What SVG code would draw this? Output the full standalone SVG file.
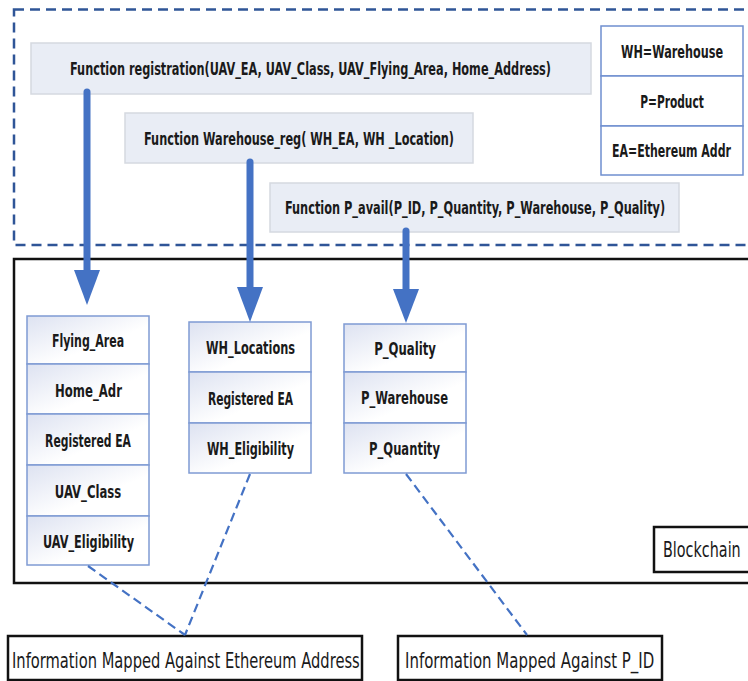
<svg xmlns="http://www.w3.org/2000/svg" width="748" height="681" viewBox="0 0 748 681">
<defs>
<linearGradient id="cellg" x1="0" y1="0" x2="1" y2="1">
<stop offset="0" stop-color="#dde2f1"/>
<stop offset="0.6" stop-color="#ffffff"/>
<stop offset="1" stop-color="#ffffff"/>
</linearGradient>
</defs>
<style>
.fn{fill:#e9edf5;stroke:#d5d9e0;stroke-width:1.5}
.cell{fill:url(#cellg);stroke:#7f9bd3;stroke-width:1.5}
.leg{fill:#ffffff;stroke:#6f8fcf;stroke-width:1.5}
.bt{font-family:"Liberation Sans Narrow","DejaVu Sans Condensed","Liberation Sans",Arial,sans-serif;font-weight:bold;fill:#1a1a1a;text-anchor:middle}
.nt{font-family:"Liberation Sans Narrow","DejaVu Sans Condensed","Liberation Sans",Arial,sans-serif;fill:#1a1a1a}
.box{fill:#ffffff;stroke:#111;stroke-width:2.5}
.arrow{stroke:#4472c4;stroke-width:7;stroke-linecap:round;fill:none}
.head{fill:#4472c4}
.dash{stroke:#4472c4;stroke-width:2.2;stroke-dasharray:9 5;fill:none}
</style>
<rect width="748" height="681" fill="#ffffff"/>
<g id="smart-contract-area">
<rect x="14" y="9.5" width="760" height="235.5" fill="none" stroke="#2f5597" stroke-width="2.5" stroke-dasharray="10 6"/>
</g>
<g id="blockchain-area">
<rect x="14" y="259" width="760" height="324" fill="none" stroke="#111" stroke-width="2.5"/>
</g>
<g id="fn-registration">
<rect class="fn" x="31" y="43" width="560" height="51"/>
<text class="bt" transform="translate(310.5,75) scale(0.65,1)" x="0" y="0" font-size="18" textLength="740" lengthAdjust="spacingAndGlyphs">Function registration(UAV_EA, UAV_Class, UAV_Flying_Area, Home_Address)</text>
</g>
<g id="fn-warehouse">
<rect class="fn" x="125" y="113" width="348" height="50"/>
<text class="bt" transform="translate(299,144.5) scale(0.65,1)" x="0" y="0" font-size="18" textLength="477" lengthAdjust="spacingAndGlyphs">Function Warehouse_reg( WH_EA, WH _Location)</text>
</g>
<g id="fn-pavail">
<rect class="fn" x="270" y="183" width="409" height="49"/>
<text class="bt" transform="translate(475,213.5) scale(0.65,1)" x="0" y="0" font-size="18" textLength="585" lengthAdjust="spacingAndGlyphs">Function P_avail(P_ID, P_Quantity, P_Warehouse, P_Quality)</text>
</g>
<g id="legend">
<rect class="leg" x="601" y="26" width="142" height="50"/>
<rect class="leg" x="601" y="76" width="142" height="50"/>
<rect class="leg" x="601" y="126" width="142" height="49"/>
<text class="bt" transform="translate(672,58) scale(0.65,1)" x="0" y="0" font-size="18" textLength="157" lengthAdjust="spacingAndGlyphs">WH=Warehouse</text>
<text class="bt" transform="translate(672,107.5) scale(0.65,1)" x="0" y="0" font-size="18" textLength="98" lengthAdjust="spacingAndGlyphs">P=Product</text>
<text class="bt" transform="translate(671.5,156.5) scale(0.65,1)" x="0" y="0" font-size="18" textLength="183" lengthAdjust="spacingAndGlyphs">EA=Ethereum Addr</text>
</g>
<g id="uav-table">
<rect class="cell" x="27" y="316" width="122" height="48"/>
<rect class="cell" x="27" y="364" width="122" height="50"/>
<rect class="cell" x="27" y="414" width="122" height="51"/>
<rect class="cell" x="27" y="465" width="122" height="51"/>
<rect class="cell" x="27" y="516" width="122" height="49"/>
<text class="bt" transform="translate(88,347) scale(0.65,1)" x="0" y="0" font-size="17.5" textLength="111" lengthAdjust="spacingAndGlyphs">Flying_Area</text>
<text class="bt" transform="translate(88.5,396.5) scale(0.65,1)" x="0" y="0" font-size="17.5" textLength="103" lengthAdjust="spacingAndGlyphs">Home_Adr</text>
<text class="bt" transform="translate(88,446.5) scale(0.65,1)" x="0" y="0" font-size="17.5" textLength="132" lengthAdjust="spacingAndGlyphs">Registered EA</text>
<text class="bt" transform="translate(88,497.5) scale(0.65,1)" x="0" y="0" font-size="17.5" textLength="102" lengthAdjust="spacingAndGlyphs">UAV_Class</text>
<text class="bt" transform="translate(88.5,547.5) scale(0.65,1)" x="0" y="0" font-size="17.5" textLength="140" lengthAdjust="spacingAndGlyphs">UAV_Eligibility</text>
</g>
<g id="wh-table">
<rect class="cell" x="189" y="322" width="122" height="50"/>
<rect class="cell" x="189" y="372" width="122" height="51"/>
<rect class="cell" x="189" y="423" width="122" height="50"/>
<text class="bt" transform="translate(250.5,354) scale(0.65,1)" x="0" y="0" font-size="17.5" textLength="137" lengthAdjust="spacingAndGlyphs">WH_Locations</text>
<text class="bt" transform="translate(250.5,404.5) scale(0.65,1)" x="0" y="0" font-size="17.5" textLength="131" lengthAdjust="spacingAndGlyphs">Registered EA</text>
<text class="bt" transform="translate(250.5,454.5) scale(0.65,1)" x="0" y="0" font-size="17.5" textLength="134" lengthAdjust="spacingAndGlyphs">WH_Eligibility</text>
</g>
<g id="p-table">
<rect class="cell" x="344" y="324" width="122" height="48"/>
<rect class="cell" x="344" y="372" width="122" height="51"/>
<rect class="cell" x="344" y="423" width="122" height="50"/>
<text class="bt" transform="translate(405,355) scale(0.65,1)" x="0" y="0" font-size="17.5" textLength="95" lengthAdjust="spacingAndGlyphs">P_Quality</text>
<text class="bt" transform="translate(404.5,403.5) scale(0.65,1)" x="0" y="0" font-size="17.5" textLength="134" lengthAdjust="spacingAndGlyphs">P_Warehouse</text>
<text class="bt" transform="translate(404.5,454.5) scale(0.65,1)" x="0" y="0" font-size="17.5" textLength="109" lengthAdjust="spacingAndGlyphs">P_Quantity</text>
</g>
<g id="blockchain-label">
<rect class="box" x="654" y="527" width="110" height="45"/>
<text class="nt" transform="translate(663,557) scale(0.67,1)" x="0" y="0" font-size="22" textLength="116" lengthAdjust="spacingAndGlyphs">Blockchain</text>
</g>
<g id="info-ea">
<rect class="box" x="8" y="636" width="354" height="44"/>
<text class="nt" transform="translate(12,667.5) scale(0.67,1)" x="0" y="0" font-size="22" textLength="519" lengthAdjust="spacingAndGlyphs">Information Mapped Against Ethereum Address</text>
</g>
<g id="info-pid">
<rect class="box" x="398" y="636" width="264" height="44"/>
<text class="nt" transform="translate(405,667.5) scale(0.67,1)" x="0" y="0" font-size="22" textLength="372" lengthAdjust="spacingAndGlyphs">Information Mapped Against P_ID</text>
</g>
<g id="connectors">
<line class="arrow" x1="87" y1="92" x2="87" y2="272"/>
<polygon class="head" points="74,270 100,270 87,305"/>
<line class="arrow" x1="250" y1="162" x2="250" y2="289"/>
<polygon class="head" points="237,287 263,287 250,322"/>
<line class="arrow" x1="406" y1="231" x2="406" y2="291"/>
<polygon class="head" points="393,289 419,289 406,323"/>
<line class="dash" x1="88" y1="566" x2="185" y2="635"/>
<line class="dash" x1="250" y1="474" x2="185" y2="635"/>
<line class="dash" x1="406" y1="474" x2="527" y2="635"/>
</g>
</svg>
